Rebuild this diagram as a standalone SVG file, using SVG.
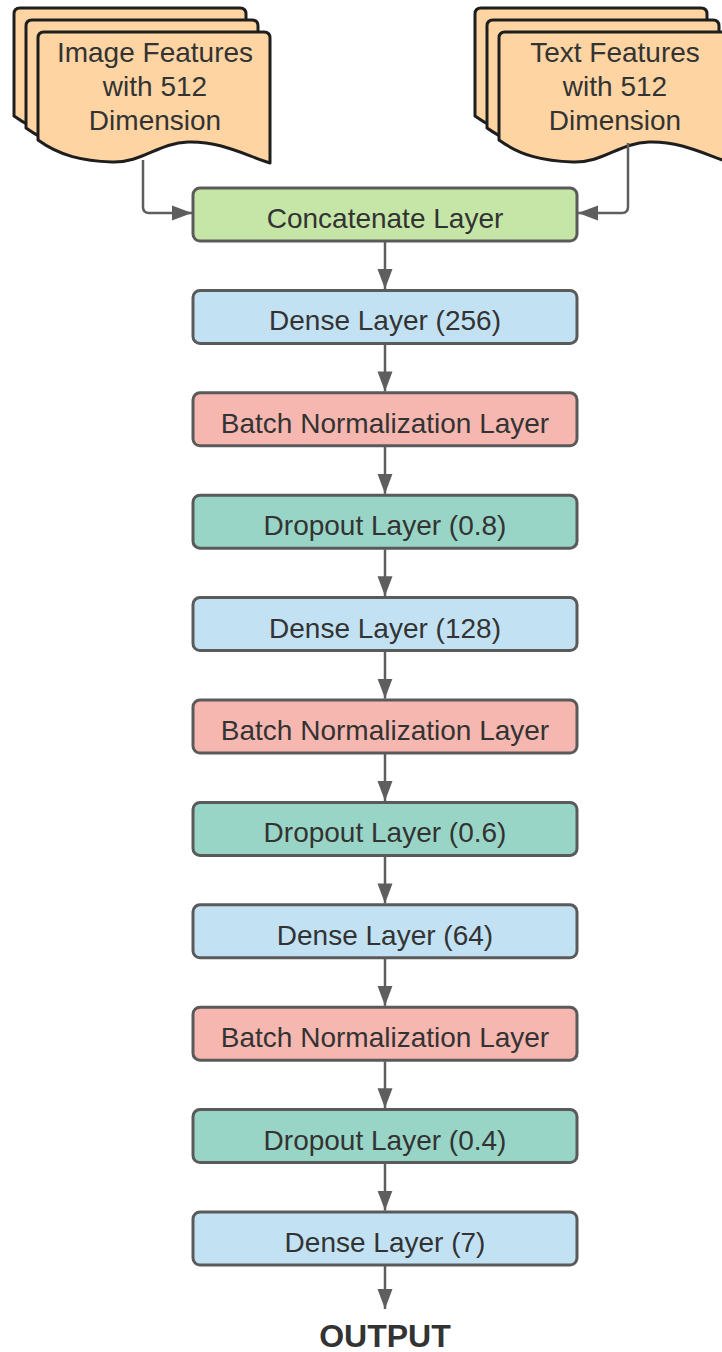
<svg xmlns="http://www.w3.org/2000/svg" width="722" height="1352" viewBox="0 0 722 1352">
  <defs>
    <style>
      .doc { fill: #fdd4a2; stroke: #1e1e1e; stroke-width: 3; stroke-linejoin: round; }
      .box { stroke: #5a5a5a; stroke-width: 3; }
      .concat { fill: #c6e6a8; }
      .dense { fill: #c2e2f4; }
      .bn { fill: #f6b7b0; }
      .drop { fill: #99d5c6; }
      .lbl { font-family: "Liberation Sans", Arial, sans-serif; font-size: 28px; fill: #333333; text-anchor: middle; }
      .out { font-family: "Liberation Sans", Arial, sans-serif; font-size: 32px; font-weight: bold; fill: #333333; text-anchor: middle; }
      .conn { fill: none; stroke: #5e5e5e; stroke-width: 2.5; }
    </style>
    <marker id="arrow" markerUnits="userSpaceOnUse" markerWidth="20" markerHeight="16" refX="20" refY="8" orient="auto">
      <path d="M0,0.5 L20,8 L0,15.5 z" fill="#5e5e5e"/>
    </marker>
    <!-- single sheet of the multi-document shape, drawn at origin -->
    <path id="sheet" d="M0,108 L0,6 Q0,0 6,0 L226,0 Q232,0 232,6 L232,131 C207,123 182,109 150,110 C120,111 104,131 74,130 C45,129 22,124 0,108 z"/>
  </defs>

  <!-- input feature stacks -->
  <g id="image-features">
    <use href="#sheet" class="doc" x="14" y="8"/>
    <use href="#sheet" class="doc" x="26" y="20"/>
    <use href="#sheet" class="doc" x="38" y="32"/>
    <text class="lbl" x="155" y="62">Image Features</text>
    <text class="lbl" x="155" y="96">with 512</text>
    <text class="lbl" x="155" y="130">Dimension</text>
  </g>
  <g id="text-features">
    <use href="#sheet" class="doc" x="475" y="8"/>
    <use href="#sheet" class="doc" x="487" y="20"/>
    <use href="#sheet" class="doc" x="499" y="32"/>
    <text class="lbl" x="615" y="62">Text Features</text>
    <text class="lbl" x="615" y="96">with 512</text>
    <text class="lbl" x="615" y="130">Dimension</text>
  </g>

  <!-- layer stack -->
  <g id="concatenate">
    <rect class="box concat" x="193" y="188" width="384" height="53" rx="7"/>
    <text class="lbl" x="385" y="228">Concatenate Layer</text>
  </g>
  <g id="dense-256">
    <rect class="box dense" x="193" y="290.4" width="384" height="53" rx="7"/>
    <text class="lbl" x="385" y="330.4">Dense Layer (256)</text>
  </g>
  <g id="batchnorm-1">
    <rect class="box bn" x="193" y="392.8" width="384" height="53" rx="7"/>
    <text class="lbl" x="385" y="432.8">Batch Normalization Layer</text>
  </g>
  <g id="dropout-08">
    <rect class="box drop" x="193" y="495.2" width="384" height="53" rx="7"/>
    <text class="lbl" x="385" y="535.2">Dropout Layer (0.8)</text>
  </g>
  <g id="dense-128">
    <rect class="box dense" x="193" y="597.6" width="384" height="53" rx="7"/>
    <text class="lbl" x="385" y="637.6">Dense Layer (128)</text>
  </g>
  <g id="batchnorm-2">
    <rect class="box bn" x="193" y="700" width="384" height="53" rx="7"/>
    <text class="lbl" x="385" y="740">Batch Normalization Layer</text>
  </g>
  <g id="dropout-06">
    <rect class="box drop" x="193" y="802.4" width="384" height="53" rx="7"/>
    <text class="lbl" x="385" y="842.4">Dropout Layer (0.6)</text>
  </g>
  <g id="dense-64">
    <rect class="box dense" x="193" y="904.8" width="384" height="53" rx="7"/>
    <text class="lbl" x="385" y="944.8">Dense Layer (64)</text>
  </g>
  <g id="batchnorm-3">
    <rect class="box bn" x="193" y="1007.2" width="384" height="53" rx="7"/>
    <text class="lbl" x="385" y="1047.2">Batch Normalization Layer</text>
  </g>
  <g id="dropout-04">
    <rect class="box drop" x="193" y="1109.6" width="384" height="53" rx="7"/>
    <text class="lbl" x="385" y="1149.6">Dropout Layer (0.4)</text>
  </g>
  <g id="dense-7">
    <rect class="box dense" x="193" y="1212" width="384" height="53" rx="7"/>
    <text class="lbl" x="385" y="1252">Dense Layer (7)</text>
  </g>
  <g id="output">
    <text class="out" x="385" y="1347">OUTPUT</text>
  </g>

  <!-- connectors -->
  <g id="connectors">
    <path class="conn" marker-end="url(#arrow)" d="M143,160 L143,207 Q143,213 149,213 L192,213"/>
    <path class="conn" marker-end="url(#arrow)" d="M628,143 L628,207 Q628,213 622,213 L578,213"/>
    <path class="conn" marker-end="url(#arrow)" d="M385,242 L385,289"/>
    <path class="conn" marker-end="url(#arrow)" d="M385,344.4 L385,391.4"/>
    <path class="conn" marker-end="url(#arrow)" d="M385,446.8 L385,493.8"/>
    <path class="conn" marker-end="url(#arrow)" d="M385,549.2 L385,596.2"/>
    <path class="conn" marker-end="url(#arrow)" d="M385,651.6 L385,698.6"/>
    <path class="conn" marker-end="url(#arrow)" d="M385,754 L385,801"/>
    <path class="conn" marker-end="url(#arrow)" d="M385,856.4 L385,903.4"/>
    <path class="conn" marker-end="url(#arrow)" d="M385,958.8 L385,1005.8"/>
    <path class="conn" marker-end="url(#arrow)" d="M385,1061.2 L385,1108.2"/>
    <path class="conn" marker-end="url(#arrow)" d="M385,1163.6 L385,1210.6"/>
    <path class="conn" marker-end="url(#arrow)" d="M385,1266 L385,1309"/>
  </g>
</svg>
